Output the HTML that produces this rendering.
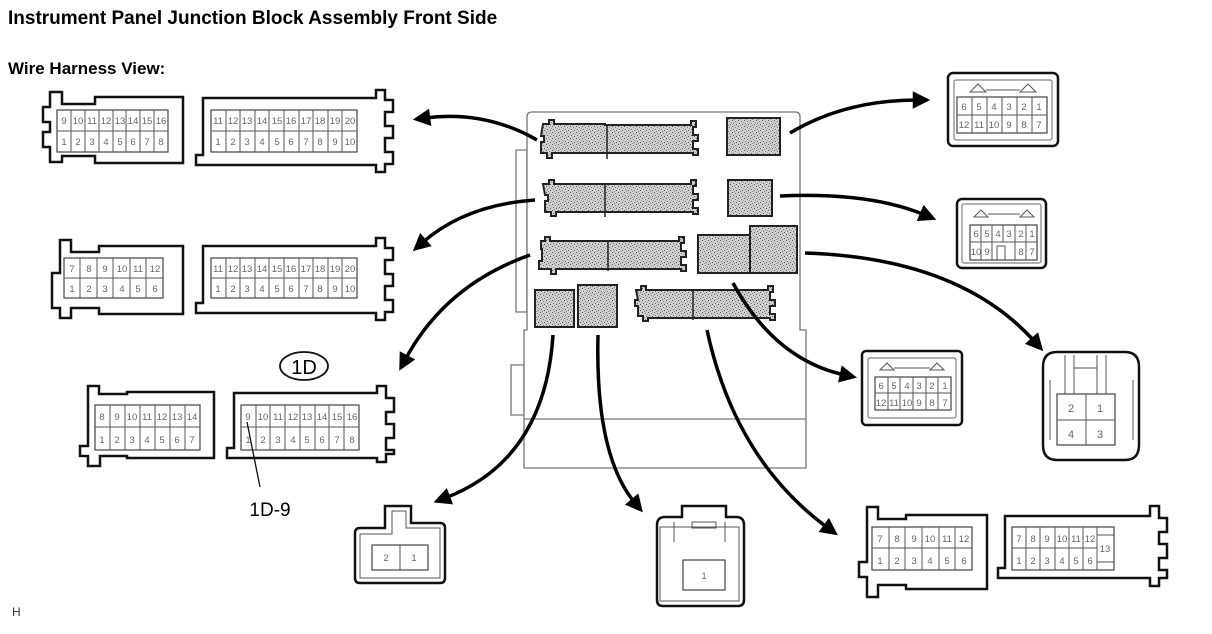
<!DOCTYPE html>
<html><head><meta charset="utf-8"><style>
html,body{margin:0;padding:0;background:#fff;}
svg{display:block;}
.t{font-family:"Liberation Sans",sans-serif;font-size:9.5px;fill:#666;text-anchor:middle;}
.o{fill:#fff;stroke:#111;stroke-width:2.5;}
.g{fill:#fff;stroke:#444;stroke-width:1.2;}
.l{stroke:#555;stroke-width:1;fill:none;}
.s{fill:url(#st);stroke:#222;stroke-width:2;}
.a{fill:none;stroke:#000;stroke-width:3.5;marker-end:url(#ah);}
</style></head><body>
<svg width="1212" height="634" viewBox="0 0 1212 634" xmlns="http://www.w3.org/2000/svg">
<defs>
<marker id="ah" viewBox="0 0 10 10" refX="3" refY="5" markerWidth="6" markerHeight="5" orient="auto"><path d="M0,0 L10,5 L0,10 z" fill="#000"/></marker>
<pattern id="st" width="6" height="6" patternUnits="userSpaceOnUse"><rect width="6" height="6" fill="#d0d0d0"/><rect x="0" y="0" width="1" height="1" fill="#555"/><rect x="3" y="1" width="1" height="1" fill="#777"/><rect x="1" y="3" width="1" height="1" fill="#666"/><rect x="4" y="4" width="1" height="1" fill="#555"/><rect x="2" y="5" width="1" height="1" fill="#888"/><rect x="5" y="2" width="1" height="1" fill="#999"/></pattern>
</defs>
<text x="8" y="24" font-family="Liberation Sans,sans-serif" font-weight="bold" font-size="19">Instrument Panel Junction Block Assembly Front Side</text>
<text x="8" y="74" font-family="Liberation Sans,sans-serif" font-weight="bold" font-size="17">Wire Harness View:</text>
<text x="12" y="616" font-family="Liberation Sans,sans-serif" font-size="12" fill="#333">H</text>

<!-- A -->
<path class="o" d="M50,92 h12 v12 h33 v-7 h88 v66 h-88 v-7 h-33 v6 h-12 v-15 h-7 v-15 h7 v-10 h-7 v-15 h7z"/>
<rect class="g" x="57" y="110" width="111" height="42"/><line class="l" x1="57" y1="131" x2="168" y2="131"/>
<path class="l" d="M71,110v42M85,110v42M99,110v42M113,110v42M126,110v42M140,110v42M154,110v42"/>
<g class="t"><text x="64" y="124">9</text><text x="78" y="124">10</text><text x="92" y="124">11</text><text x="106" y="124">12</text><text x="120" y="124">13</text><text x="133" y="124">14</text><text x="147" y="124">15</text><text x="161" y="124">16</text>
<text x="64" y="145">1</text><text x="78" y="145">2</text><text x="92" y="145">3</text><text x="106" y="145">4</text><text x="120" y="145">5</text><text x="133" y="145">6</text><text x="147" y="145">7</text><text x="161" y="145">8</text></g>
<!-- B -->
<path class="o" d="M203,98 h173 v-8 h9 v10 h8 v12 h-8 v14 h8 v12 h-8 v14 h8 v12 h-8 v8 h-9 v-7 h-180 v-10 h7z"/>
<rect class="g" x="211" y="110" width="146" height="42"/><line class="l" x1="211" y1="131" x2="357" y2="131"/>
<path class="l" d="M226,110v42M240,110v42M255,110v42M269,110v42M284,110v42M299,110v42M313,110v42M328,110v42M342,110v42"/>
<g class="t"><text x="218" y="124">11</text><text x="233" y="124">12</text><text x="247" y="124">13</text><text x="262" y="124">14</text><text x="277" y="124">15</text><text x="291" y="124">16</text><text x="306" y="124">17</text><text x="320" y="124">18</text><text x="335" y="124">19</text><text x="350" y="124">20</text>
<text x="218" y="145">1</text><text x="233" y="145">2</text><text x="247" y="145">3</text><text x="262" y="145">4</text><text x="277" y="145">5</text><text x="291" y="145">6</text><text x="306" y="145">7</text><text x="320" y="145">8</text><text x="335" y="145">9</text><text x="350" y="145">10</text></g>

<!-- C -->
<path class="o" d="M60,240 h11 v12 h28 v-6 h84 v68 h-84 v-6 h-28 v10 h-11 v-10 h-8 v-35 h8z"/>
<rect class="g" x="64" y="258" width="99" height="40"/><line class="l" x1="64" y1="278" x2="163" y2="278"/>
<path class="l" d="M80,258v40M97,258v40M113,258v40M130,258v40M146,258v40"/>
<g class="t"><text x="72" y="272">7</text><text x="89" y="272">8</text><text x="105" y="272">9</text><text x="122" y="272">10</text><text x="138" y="272">11</text><text x="155" y="272">12</text>
<text x="72" y="292">1</text><text x="89" y="292">2</text><text x="105" y="292">3</text><text x="122" y="292">4</text><text x="138" y="292">5</text><text x="155" y="292">6</text></g>
<!-- D -->
<path class="o" d="M203,246 h173 v-8 h9 v10 h8 v12 h-8 v14 h8 v12 h-8 v14 h8 v12 h-8 v8 h-9 v-7 h-180 v-10 h7z"/>
<rect class="g" x="211" y="258" width="146" height="40"/><line class="l" x1="211" y1="278" x2="357" y2="278"/>
<path class="l" d="M226,258v40M240,258v40M255,258v40M269,258v40M284,258v40M299,258v40M313,258v40M328,258v40M342,258v40"/>
<g class="t"><text x="218" y="272">11</text><text x="233" y="272">12</text><text x="247" y="272">13</text><text x="262" y="272">14</text><text x="277" y="272">15</text><text x="291" y="272">16</text><text x="306" y="272">17</text><text x="320" y="272">18</text><text x="335" y="272">19</text><text x="350" y="272">20</text>
<text x="218" y="292">1</text><text x="233" y="292">2</text><text x="247" y="292">3</text><text x="262" y="292">4</text><text x="277" y="292">5</text><text x="291" y="292">6</text><text x="306" y="292">7</text><text x="320" y="292">8</text><text x="335" y="292">9</text><text x="350" y="292">10</text></g>

<!-- E -->
<path class="o" d="M88,386 h11 v8 h28 v-2 h87 v66 h-87 v-2 h-27 v10 h-12 v-10 h-8 v-10 h8z"/>
<rect class="g" x="95" y="405" width="105" height="45"/><line class="l" x1="95" y1="427" x2="200" y2="427"/>
<path class="l" d="M110,405v45M125,405v45M140,405v45M155,405v45M170,405v45M185,405v45"/>
<g class="t"><text x="102" y="420">8</text><text x="117" y="420">9</text><text x="132" y="420">10</text><text x="147" y="420">11</text><text x="162" y="420">12</text><text x="177" y="420">13</text><text x="192" y="420">14</text>
<text x="102" y="443">1</text><text x="117" y="443">2</text><text x="132" y="443">3</text><text x="147" y="443">4</text><text x="162" y="443">5</text><text x="177" y="443">6</text><text x="192" y="443">7</text></g>
<!-- F -->
<path class="o" d="M234,393 h143 v-7 h9 v12 h8 v14 h-8 v12 h8 v14 h-8 v12 h8 v4 h-8 v8 h-9 v-4 h-150 v-10 h7z"/>
<rect class="g" x="241" y="405" width="118" height="45"/><line class="l" x1="241" y1="427" x2="359" y2="427"/>
<path class="l" d="M256,405v45M270,405v45M285,405v45M300,405v45M315,405v45M329,405v45M344,405v45"/>
<g class="t"><text x="248" y="420">9</text><text x="263" y="420">10</text><text x="278" y="420">11</text><text x="293" y="420">12</text><text x="307" y="420">13</text><text x="322" y="420">14</text><text x="337" y="420">15</text><text x="352" y="420">16</text>
<text x="248" y="443">1</text><text x="263" y="443">2</text><text x="278" y="443">3</text><text x="293" y="443">4</text><text x="307" y="443">5</text><text x="322" y="443">6</text><text x="337" y="443">7</text><text x="352" y="443">8</text></g>
<ellipse cx="304" cy="366" rx="24" ry="14" fill="none" stroke="#111" stroke-width="1.8"/>
<text x="304" y="374" font-family="Liberation Sans,sans-serif" font-size="20" text-anchor="middle">1D</text>
<line x1="247" y1="422" x2="260" y2="487" stroke="#111" stroke-width="1.3"/>
<text x="270" y="516" font-family="Liberation Sans,sans-serif" font-size="19" text-anchor="middle">1D-9</text>

<!-- 2-pin -->
<path class="o" d="M385,506 h26 v17 h29 q5,0 5,5 v50 q0,5 -5,5 h-80 q-5,0 -5,-5 v-45 q0,-5 5,-5 h25z"/>
<path fill="none" stroke="#555" stroke-width="1" d="M392,511 h14 v17 h34 v50 h-80 v-44 h32z"/>
<rect class="g" x="372" y="545" width="56" height="25"/><line class="l" x1="400" y1="545" x2="400" y2="570"/>
<g class="t"><text x="386" y="561">2</text><text x="414" y="561">1</text></g>
<!-- 1-pin -->
<path class="o" d="M682,506 h44 v11 h10 q8,0 8,8 v75 q0,6 -6,6 h-75 q-6,0 -6,-6 v-75 q0,-8 8,-8 h17z"/>
<path fill="none" stroke="#555" stroke-width="1" d="M660,527 h79 v74 h-79z M674,522 v20 M725,522 v20 M692,522 h24 v6 h-24z"/>
<rect class="g" x="683" y="560" width="42" height="30"/>
<text class="t" x="704" y="579">1</text>

<!-- junction block -->
<path fill="#fff" stroke="#777" stroke-width="1.3" d="M516,150 h11 v162 h-11z M511,365 h13 v50 h-13z"/>
<path fill="#fff" stroke="#777" stroke-width="1.3" d="M532,112 h263 q5,0 5,5 v213 h6 v138 h-282 v-138 h3 v-213 q0,-5 5,-5z"/>
<line x1="524" y1="419" x2="806" y2="419" stroke="#777" stroke-width="1.3"/>
<g class="s">
<path d="M543,124 h6 v-4 h5 v4 h51 v1 h86 v-4 h5 v6 h-3 v8 h5 v6 h-5 v8 h5 v6 h-5 v-2 h-88 v0 h-53 v5 h-5 v-5 h-6 v-11 h3 v-6 h-3z"/>
<rect x="727" y="118" width="53" height="37"/>
<path d="M543,184 h6 v-4 h5 v4 h51 v0 h86 v-4 h5 v6 h-3 v8 h5 v6 h-5 v8 h5 v6 h-5 v-2 h-86 h-51 v4 h-5 v-4 h-6 v-11 h3 v-6 h-3z"/>
<rect x="728" y="180" width="44" height="36"/>
<path d="M541,241 h4 v-4 h5 v4 h129 v-4 h5 v6 h-3 v8 h5 v6 h-5 v8 h5 v6 h-5 v-2 h-125 v5 h-5 v-5 h-12 v-8 h3 v-12 h-1z"/>
<rect x="698" y="235" width="52" height="38"/><rect x="750" y="226" width="47" height="47"/>
<rect x="535" y="290" width="39" height="37"/><rect x="578" y="285" width="39" height="42"/>
<path d="M636,290 h5 v-4 h5 v4 h122 v-4 h5 v6 h-3 v8 h5 v6 h-5 v8 h5 v6 h-5 v-2 h-122 v3 h-5 v-5 h-5 v-10 h-3 v-6 h3z"/>
</g>
<path d="M607,125 v34 M605,185 v32 M608,241 v30 M693,290 v30" stroke="#222" stroke-width="1.5"/>

<!-- arrows -->
<path class="a" d="M537,140 Q485,110 425,118"/>
<path class="a" d="M535,200 Q465,205 422,243"/>
<path class="a" d="M530,255 Q445,285 405,360"/>
<path class="a" d="M790,133 Q845,100 918,100"/>
<path class="a" d="M780,196 Q870,192 925,215"/>
<path class="a" d="M805,253 Q960,258 1035,342"/>
<path class="a" d="M733,283 Q775,360 845,375"/>
<path class="a" d="M553,335 Q545,460 445,498"/>
<path class="a" d="M598,335 Q595,455 635,503"/>
<path class="a" d="M707,330 Q735,460 828,528"/>

<!-- R1 -->
<rect class="o" x="948" y="73" width="110" height="73" rx="5"/>
<rect x="954" y="80" width="98" height="60" rx="2" fill="none" stroke="#666"/>
<path d="M970,92 l8,-8 l8,8z M1020,92 l8,-8 l8,8z M986,90 h34" fill="none" stroke="#555"/>
<rect class="g" x="957" y="97" width="90" height="36"/><line class="l" x1="957" y1="115" x2="1047" y2="115"/>
<path class="l" d="M972,97v36M987,97v36M1002,97v36M1017,97v36M1032,97v36"/>
<g class="t"><text x="964" y="110">6</text><text x="979" y="110">5</text><text x="994" y="110">4</text><text x="1009" y="110">3</text><text x="1024" y="110">2</text><text x="1039" y="110">1</text>
<text x="964" y="128">12</text><text x="979" y="128">11</text><text x="994" y="128">10</text><text x="1009" y="128">9</text><text x="1024" y="128">8</text><text x="1039" y="128">7</text></g>
<!-- R2 -->
<rect class="o" x="957" y="199" width="89" height="69" rx="5"/>
<rect x="962" y="204" width="79" height="59" rx="2" fill="none" stroke="#666"/>
<path d="M974,217 l7,-7 l7,7z M1020,217 l7,-7 l7,7z M988,214 h32" fill="none" stroke="#555"/>
<rect class="g" x="970" y="225" width="67" height="35"/><line class="l" x1="970" y1="242" x2="1037" y2="242"/>
<path class="l" d="M981,225v35M992,225v35M1003,225v17M1015,225v35M1026,225v35M997,246v14M997,246h8v14"/>
<g class="t"><text x="976" y="237">6</text><text x="987" y="237">5</text><text x="998" y="237">4</text><text x="1009" y="237">3</text><text x="1021" y="237">2</text><text x="1032" y="237">1</text>
<text x="976" y="255">10</text><text x="987" y="255">9</text><text x="1021" y="255">8</text><text x="1032" y="255">7</text></g>
<!-- R3 -->
<rect class="o" x="862" y="351" width="100" height="74" rx="4"/>
<rect x="868" y="358" width="88" height="60" rx="2" fill="none" stroke="#666"/>
<path d="M880,370 l7,-7 l7,7z M930,370 l7,-7 l7,7z M894,368 h36" fill="none" stroke="#555"/>
<rect class="g" x="875" y="377" width="76" height="33"/><line class="l" x1="875" y1="393" x2="951" y2="393"/>
<path class="l" d="M888,377v33M900,377v33M913,377v33M926,377v33M938,377v33"/>
<g class="t"><text x="881" y="389">6</text><text x="894" y="389">5</text><text x="907" y="389">4</text><text x="919" y="389">3</text><text x="932" y="389">2</text><text x="945" y="389">1</text>
<text x="881" y="406">12</text><text x="894" y="406">11</text><text x="907" y="406">10</text><text x="919" y="406">9</text><text x="932" y="406">8</text><text x="945" y="406">7</text></g>
<!-- 4pin -->
<path class="o" d="M1068,352 h57 q14,0 14,15 v78 q0,15 -14,15 h-68 q-14,0 -14,-15 v-78 q0,-15 14,-15z"/>
<path d="M1065,355 v40 M1074,355 v40 M1097,355 v40 M1106,355 v40 M1074,368 h23 M1050,380 v60 M1133,380 v60" fill="none" stroke="#555"/>
<rect class="g" x="1057" y="394" width="58" height="51"/><path class="l" d="M1086,394v51M1057,420h58"/>
<g class="t" style="font-size:11px"><text x="1071" y="412">2</text><text x="1100" y="412">1</text><text x="1071" y="438">4</text><text x="1100" y="438">3</text></g>

<!-- G -->
<path class="o" d="M867,507 h11 v12 h28 v-4 h81 v74 h-81 v-4 h-28 v12 h-11 v-20 h-8 v-15 h8z"/>
<rect class="g" x="872" y="527" width="100" height="43"/><line class="l" x1="872" y1="548" x2="972" y2="548"/>
<path class="l" d="M889,527v43M905,527v43M922,527v43M939,527v43M955,527v43"/>
<g class="t"><text x="880" y="542">7</text><text x="897" y="542">8</text><text x="914" y="542">9</text><text x="930" y="542">10</text><text x="947" y="542">11</text><text x="964" y="542">12</text>
<text x="880" y="564">1</text><text x="897" y="564">2</text><text x="914" y="564">3</text><text x="930" y="564">4</text><text x="947" y="564">5</text><text x="964" y="564">6</text></g>
<!-- H -->
<path class="o" d="M1005,516 h145 v-10 h9 v12 h8 v14 h-8 v12 h8 v14 h-8 v12 h8 v8 h-8 v8 h-9 v-8 h-152 v-10 h7z"/>
<rect class="g" x="1012" y="527" width="102" height="43"/><line class="l" x1="1012" y1="548" x2="1097" y2="548"/>
<path class="l" d="M1026,527v43M1040,527v43M1055,527v43M1069,527v43M1083,527v43M1097,527v43M1097,535h17M1097,562h17"/>
<g class="t"><text x="1019" y="542">7</text><text x="1033" y="542">8</text><text x="1047" y="542">9</text><text x="1062" y="542">10</text><text x="1076" y="542">11</text><text x="1090" y="542">12</text>
<text x="1019" y="564">1</text><text x="1033" y="564">2</text><text x="1047" y="564">3</text><text x="1062" y="564">4</text><text x="1076" y="564">5</text><text x="1090" y="564">6</text><text x="1105" y="552">13</text></g>
</svg>
</body></html>
